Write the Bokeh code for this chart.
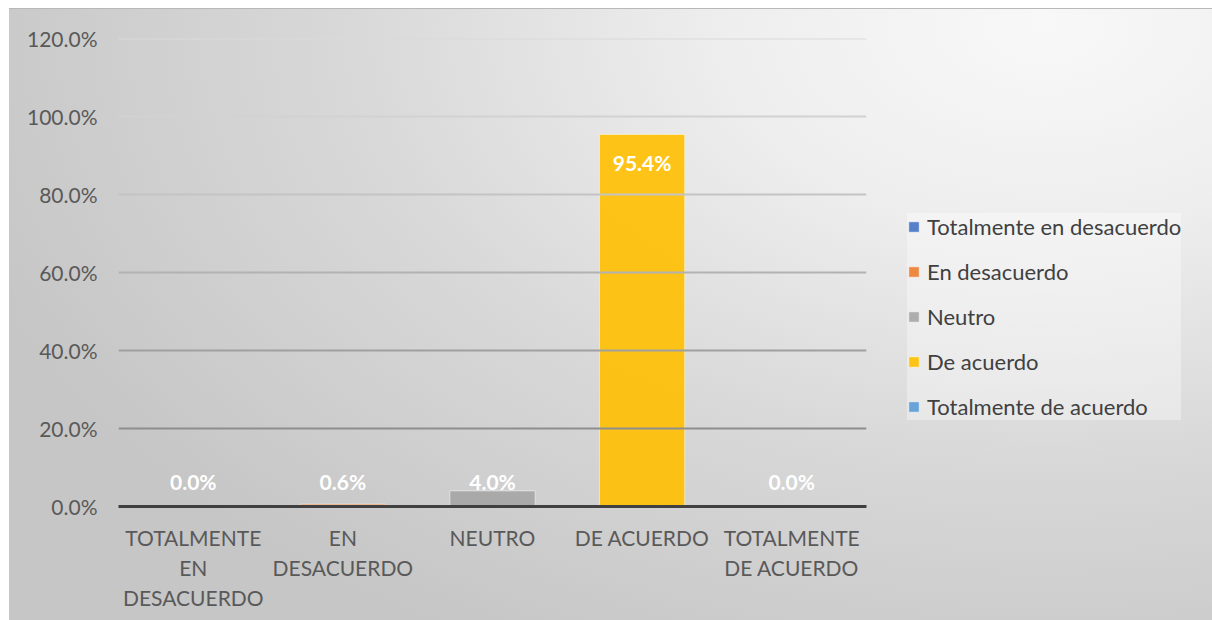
from bokeh.plotting import figure
from bokeh.models import (ColumnDataSource, FactorRange, Range1d, Span, LabelSet,
                          Legend, LegendItem, FixedTicker)
from bokeh.core.properties import value
from bokeh.embed import file_html
from bokeh.resources import INLINE

# ---- data ----
categories = ["TOTALMENTE\nEN\nDESACUERDO", "EN\nDESACUERDO", "NEUTRO",
              "DE ACUERDO", "TOTALMENTE\nDE ACUERDO"]
legend_labels = ["Totalmente en desacuerdo", "En desacuerdo", "Neutro",
                 "De acuerdo", "Totalmente de acuerdo"]
values = [0.0, 0.6, 4.0, 95.4, 0.0]
y_ticks = [0, 20, 40, 60, 80, 100, 120]
colors = ["#4472C4", "#ED7D31", "#A5A5A5", "#FFC000", "#5B9BD5"]

FONT = "Lato"

label_y = [v if v >= 10 else 0 for v in values]
label_off = [-28 if v >= 10 else 25 for v in values]

src = ColumnDataSource(dict(
    cat=categories, val=values, color=colors, leg=legend_labels,
    txt=["%.1f%%" % v for v in values], ly=label_y, loff=label_off,
))

p = figure(x_range=FactorRange(*categories, range_padding=0),
           y_range=Range1d(0, 120),
           frame_width=748, frame_height=468,
           output_backend="svg", toolbar_location=None,
           min_border_left=109, min_border_right=337, min_border_top=30,
           min_border_bottom=114)
p.styles = {
    "margin-left": "9px", "margin-top": "8px",
    "background": "radial-gradient(ellipse 70% 115% at 64% 3%, #f8f8f8 0%, #eeeeee 28%, #d8d8d8 62%, #c6c6c6 100%)",
    "box-shadow": "inset 0 1px 0 #b8b8b8",
}
p.background_fill_color = None
p.border_fill_color = None
p.outline_line_color = None
p.xgrid.grid_line_color = None
p.ygrid.grid_line_color = None

grid_colors = ["#000000", "#8e8e8e", "#a0a0a0", "#b2b2b2", "#c4c4c4", "#d2d2d2", "#dadada"]
for t, c in zip(y_ticks, grid_colors):
    if t == 0:
        continue
    p.add_layout(Span(location=t, dimension="width", line_color=c, line_width=2))

bars = p.vbar(x="cat", top="val", width=0.57, source=src, fill_color="color",
              fill_alpha=0.9, line_color="white", line_alpha=0.5, line_width=1)

labels = LabelSet(x="cat", y="ly", text="txt", y_offset="loff", source=src,
                  text_color="white", text_font=value(FONT), text_font_style="bold",
                  text_font_size="21px", text_align="center", text_baseline="middle")
p.add_layout(labels)

# axes
p.yaxis.ticker = FixedTicker(ticks=y_ticks)
p.yaxis.major_label_overrides = {t: "%.1f%%" % t for t in y_ticks}
p.yaxis.axis_line_color = None
p.yaxis.major_tick_line_color = None
p.yaxis.minor_tick_line_color = None
p.yaxis.major_label_standoff = 15
p.yaxis.major_label_text_font = FONT
p.yaxis.major_label_text_font_size = "21px"
p.yaxis.major_label_text_color = "#595959"

p.xaxis.axis_line_color = "#404040"
p.xaxis.axis_line_width = 3
p.xaxis.major_tick_line_color = None
p.xaxis.minor_tick_line_color = None
p.xaxis.major_label_standoff = 12
p.xaxis.major_label_text_font = FONT
p.xaxis.major_label_text_font_size = "21px"
p.xaxis.major_label_text_color = "#595959"
p.xaxis.major_label_text_line_height = 1.2

items = [LegendItem(label=legend_labels[i], renderers=[bars], index=i) for i in range(len(values))]
legend = Legend(items=items, location=(41, 86),
                background_fill_color="white", background_fill_alpha=0.35,
                border_line_color=None, glyph_width=13, glyph_height=13,
                label_height=25, spacing=18, padding=14, label_standoff=7,
                label_text_font=FONT, label_text_font_size="22px",
                label_text_color="#404040", margin=0)
p.add_layout(legend, "right")

open("out.html", "w").write(file_html(p, INLINE))
